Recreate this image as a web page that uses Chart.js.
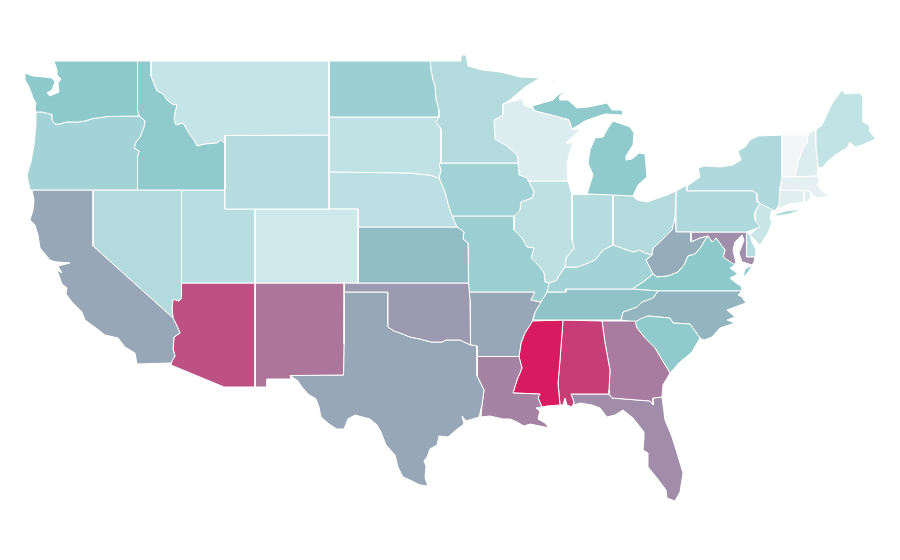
<!DOCTYPE html>
<html>
<head>
<meta charset="utf-8">
<title>US states</title>
<script src="https://cdn.jsdelivr.net/npm/chart.js@4"></script>
<style>
  html, body { margin: 0; background: #fff; }
  #wrap { width: 900px; height: 560px; }
</style>
</head>
<body>
<div id="wrap"><canvas id="map"></canvas></div>
<script>
// Choropleth values (0 = palest, 1 = crimson)
const stateNames = ['WA','OR','CA','ID','NV','MT','WY','UT','AZ','CO','NM','ND','SD','NE','KS','OK','TX','MN','IA','MO','AR','LA','WI','IL','MI','IN','OH','KY','TN','MS','AL','GA','FL','SC','NC','VA','WV','PA','NY','NJ','MD','DE','CT','RI','MA','VT','NH','ME'];
const stateValues = [0.5,0.385,0.6,0.49,0.298,0.2,0.287,0.27,0.844,0.157,0.74,0.43,0.22,0.255,0.538,0.636,0.6,0.298,0.395,0.43,0.6,0.7,0.1,0.245,0.49,0.287,0.3,0.385,0.518,1,0.9,0.72,0.672,0.49,0.559,0.5,0.582,0.32,0.32,0.185,0.667,0.287,0.085,0.08,0.06,0,0.1,0.215];

// Colour ramp
const rampStops = [0, 0.2, 0.5, 0.6, 0.7, 1];
const rampColors = [[244,245,246],[197,228,231],[142,201,204],[151,167,183],[165,131,163],[216,27,96]];

// State outlines in map units
const WA = [[54,61],[137.5,61],[137.5,110],[139,116],[108,116.5],[93,118.5],[85,121],[78,122],[66,122],[60,124],[55,124],[52,120],[52,114.5],[42,112],[36,112],[35,108],[36,103],[33,98],[31,92],[28,85],[25,80],[25,73],[33,76],[44,77],[52,78],[55,82],[52,90],[47,93],[50,96],[59,92],[58,83],[61,79],[57,75],[57,70]];
const OR = [[139,116],[145,121],[144,127],[140,137],[136,142],[134,148],[139,151],[137.5,157],[137.5,190],[30,190],[27,175],[31,162],[34,145],[36,125],[36,112],[42,112],[52,114.5],[52,120],[55,124],[60,124],[66,122],[78,122],[85,121],[93,118.5],[108,116.5]];
const CA = [[32,190],[93,190],[93,246],[173,318],[177,326],[180,333],[174,337],[173,349],[175,356],[172,361],[171,363],[137,364],[135,353],[125,347],[118,338],[105,335],[96,328],[85,320],[82,312],[72,302],[66,294],[67,288],[62,284],[57,270],[62,273],[58,266],[70,263],[58,262],[56,262],[50,260],[40,248],[38,235],[35,225],[30,220],[33,210],[34,200]];
const ID = [[137.5,61],[151,61],[151,76],[154,84],[157,91],[163,94],[167,100],[172,104],[177,105],[175,112],[174,120],[176,125],[183,123],[187,130],[190,135],[194,140],[197,146],[205,144],[217,143],[221,140],[225,144],[225,190],[137.5,190],[137.5,157],[139,151],[134,148],[136,142],[140,137],[144,127],[145,121],[139,116],[137.5,110]];
const NV = [[93,190],[181.5,190],[181.5,298],[179,301],[173,299],[172,308],[173,318],[93,246]];
const MT = [[151,61],[329,61],[329,135],[225,135.5],[225,144],[221,140],[217,143],[205,144],[197,146],[194,140],[190,135],[187,130],[183,123],[176,125],[174,120],[175,112],[177,105],[172,104],[167,100],[163,94],[157,91],[154,84],[151,76]];
const WY = [[225,135.5],[329,135],[329,209],[225,209]];
const UT = [[181.5,190],[225,190],[225,209],[255,209],[255,283],[181.5,283]];
const AZ = [[181.5,283],[255,283],[255,387],[224,387],[171,365],[172,361],[175,356],[173,349],[174,337],[180,333],[177,326],[173,318],[172,308],[173,299],[179,301],[181.5,298]];
const CO = [[255,209],[358,209],[358,283],[255,283]];
const NM = [[255,283],[344.5,283],[344,344],[343.5,375],[290,375.5],[291,379],[267,379],[267,387],[255,387]];
const ND = [[329,61],[430,61],[431,70],[433,80],[435,86],[436,100],[439,110],[439,117],[329,117]];
const SD = [[329,117],[439,117],[436,122],[441,129],[441,163],[439,164],[441,170],[439,178],[433,176],[429,175],[418,174],[412,173],[329,172]];
const NE = [[329,172],[412,173],[418,174],[429,175],[433,176],[439,178],[445,192],[448,204],[452,216],[457,227],[358,227],[358,209],[329,209]];
const KS = [[358,227],[457,227],[464,232],[463,239],[468,243],[468.5,283],[358,283]];
const OK = [[344.5,283],[468.5,283],[470,300],[470.5,345],[460,340],[446,340],[442,342],[431,342],[420,339],[410,337],[400,333],[394,331],[388,327],[388,292],[344.5,292]];
const TX = [[344.5,292],[388,292],[388,327],[394,331],[400,333],[410,337],[420,339],[431,342],[442,342],[446,340],[460,340],[470.5,345],[477,346],[477,376],[484,390],[482,405],[479,417],[466,421],[462,416],[464,424],[456,430],[448,437],[439,436],[437,445],[430,449],[427,457],[424,461],[426,466],[425,478],[428,486],[420,485],[410,480],[403,477],[398,467],[395,455],[386,445],[381,432],[377,425],[370,419],[355,415],[348,419],[344,429],[337,429],[329,424],[321,417],[319,407],[316,399],[308,394],[302,387],[298,381],[290,375.5],[343.5,375],[344,344]];
const MN = [[430,61],[461,61],[461,55],[466,55],[468,66],[482,70],[500,72],[505,73],[520,77],[540,78],[525,87],[510,100],[503,104],[503,115],[494,120],[495,139],[507,146],[517,155],[518,163],[441,163],[441,129],[436,122],[439,117],[439,110],[436,100],[435,86],[433,80],[431,70]];
const IA = [[441,163],[518,163],[519,175],[527,178],[534,192],[532,198],[521,202],[520,210],[514,216],[452,216],[448,204],[445,192],[439,178],[441,170],[439,164]];
const MO = [[452,216],[514,216],[514,230],[522,238],[527,247],[534,248],[531,258],[540,267],[544,273],[545,282],[549,283],[547,292],[541,302],[531,300],[535,292],[469,292],[468.5,283],[468,243],[463,239],[464,232],[457,227]];
const AR = [[469,292],[535,292],[531,300],[541,302],[535,312],[532,322],[525,333],[521,343],[519,356.5],[477,356.5],[477,346],[470.5,345],[470,300]];
const LA = [[477,356.5],[519,356.5],[522,368],[517,380],[513,393],[540,394],[538,398],[542,407],[536,408],[540,411],[538,419],[545,423],[549,428],[540,426],[530,424],[524,426],[517,422],[510,419],[503,419],[490,416],[481,417],[482,405],[484,390],[477,376]];
const WI = [[503,104],[510,102],[522,99],[524,105],[532,108],[535,111],[555,116],[569,120],[572,129],[580,130],[566,143],[573,143],[569,155],[567,165],[568,181],[527,181],[520,176],[519,175],[518,163],[517,155],[507,146],[495,139],[494,120],[503,115]];
const IL = [[527,181],[568,181],[572,195],[572,240],[574,248],[566,258],[565,267],[558,277],[557,280],[549,283],[545,282],[544,273],[540,267],[531,258],[534,248],[527,247],[522,238],[514,230],[514,216],[520,210],[521,202],[532,198],[534,192],[527,178]];
const miLower = [[587,194],[613,195],[633,196],[638,185],[647,177],[645,154],[639,153],[632,159],[626,160],[626,156],[633,145],[634,133],[630,127],[622,124],[613,121],[608,128],[603,137],[595,138],[590,150],[588,163],[593,175]];
const miUpper = [[532,106],[553,100],[558,95],[568,90],[560,96],[560,100],[568,100],[577,108],[588,107],[607,103],[612,110],[622,110],[623,115],[605,114],[593,118],[585,121],[572,129],[569,120],[555,116],[535,111]];
const miIsle = [[549,82],[556,78],[553,81]];
const IN = [[572.5,194.5],[613,194.5],[613,245],[603,250],[595,260],[588,263],[583,265],[577,267],[565,267],[566,258],[574,248],[572,240]];
const OH = [[613,195],[633,196],[637,200],[647,202],[667,195],[676,191],[675,217],[672,230],[662,240],[653,248],[652,255],[643,252],[640,250],[633,252],[622,248],[613,245]];
const KY = [[545,282],[549,283],[557,280],[558,277],[565,267],[577,267],[583,265],[588,263],[595,260],[603,250],[613,245],[622,248],[633,252],[640,250],[643,252],[652,255],[646,260],[650,268],[653,274],[643,282],[632,289],[566,289],[566,292],[547,292]];
const TN = [[547,292],[566,292],[566,289],[632,289],[658,291],[653,298],[642,302],[637,307],[623,312],[621,320],[533,320],[535,312],[541,302]];
const MS = [[532,321],[563,320],[560,360],[558,383],[560,405],[547,406],[542,407],[538,398],[540,394],[513,393],[517,380],[522,368],[519,357],[521,343],[525,333]];
const AL = [[563,320],[602,321],[605,343],[610,370],[609,390],[609,394],[571,394],[574,402],[572,407],[567,405],[565,398],[563,405],[560,405],[558,383],[560,360]];
const GA = [[602,321],[635,321],[637,328],[645,338],[655,348],[662,360],[667,368],[670,373],[663,385],[662,397],[653,398],[653,405],[650,401],[612,398],[609,394],[609,390],[610,370],[605,343]];
const FL = [[571,394],[609,394],[612,398],[650,401],[653,405],[653,398],[662,397],[665,420],[672,437],[677,453],[683,473],[680,492],[675,501],[667,498],[666,490],[657,478],[648,467],[648,453],[643,450],[644,438],[644,432],[633,418],[623,410],[615,415],[607,417],[600,408],[592,405],[580,403],[574,405],[574,402]];
const SC = [[635,322],[642,318],[648,316],[670,318],[673,323],[690,324],[700,338],[692,352],[680,362],[670,373],[667,368],[662,360],[655,348],[645,338],[637,328]];
const NC = [[658,291],[742,291],[738,295],[742,297],[746,303],[735,307],[727,310],[735,317],[727,320],[735,323],[720,328],[712,337],[704,340],[700,338],[690,324],[673,323],[670,318],[648,316],[640,320],[635,322],[621,320],[623,312],[637,307],[642,302],[653,298]];
const vaMain = [[632,289],[643,282],[653,274],[657,277],[668,276],[678,272],[684,265],[688,256],[695,254],[701,247],[705,240],[708,236],[712,242],[716,238],[725,250],[723,257],[735,265],[730,268],[738,274],[730,278],[736,283],[741,286],[742,291],[658,291]];
const vaShore = [[753,265],[745,269],[743,278],[748,272]];
const WV = [[676,232],[691,232],[691,242],[700,238],[708,236],[705,240],[701,247],[695,254],[688,256],[684,265],[678,272],[668,276],[657,277],[653,274],[650,268],[646,260],[652,255],[653,248],[662,240],[672,230],[675,217]];
const PA = [[676,191],[687,185],[687,191],[753,191],[757,194],[757,202],[760,203],[755,212],[755,220],[760,227],[752,230],[746.5,232],[676,232]];
const nyMain = [[687,191],[687,186],[700,177],[698,168],[705,166],[720,167],[733,165],[741,160],[738,151],[745,147],[750,140],[758,136],[782,135],[782,177],[780,187],[779,205],[775,211],[761,204],[757,201],[757,194],[753,191]];
const nyIsland = [[773,215],[785,211],[802,209],[790,214],[778,216]];
const NJ = [[761,204],[772,208],[770,218],[772,222],[768,233],[760,245],[750,235],[758,227],[755,220],[755,212],[760,203]];
const MD = [[691,232],[746.5,232],[746.5,257],[755,257],[754,262],[752,265],[746,263],[742,262],[739,253],[744,240],[742,235],[735,242],[733,250],[736,263],[733,265],[723,257],[725,250],[716,238],[712,242],[708,236],[700,238],[691,242]];
const DE = [[746.5,232],[750,235],[752,242],[756,250],[756,257],[746.5,257]];
const CT = [[780,190],[804,190.5],[804,202],[790,204],[778,209],[779,205]];
const RI = [[804,190.5],[810,191],[811,198],[807,202],[804,202]];
const MA = [[782,177],[795,177],[817,176],[820,180],[817,185],[823,192],[830,195],[823,197],[817,198],[813,195],[810,191],[780,190]];
const VT = [[782,135],[808,135],[807,143],[803,148],[798,162],[795,177],[782,177]];
const NH = [[810,133],[815,130],[816,148],[818,167],[817,176],[795,177],[798,162],[803,148],[807,143],[808,135]];
const ME = [[816,130],[822,125],[828,112],[833,102],[842,90],[845,94],[860,93],[863,97],[863,122],[869,125],[870,132],[876,139],[862,145],[855,147],[850,142],[847,148],[835,155],[827,162],[822,168],[818,167],[816,148]];

const stateShapes = [[WA],[OR],[CA],[ID],[NV],[MT],[WY],[UT],[AZ],[CO],[NM],[ND],[SD],[NE],[KS],[OK],[TX],[MN],[IA],[MO],[AR],[LA],[WI],[IL],[miLower,miUpper,miIsle],[IN],[OH],[KY],[TN],[MS],[AL],[GA],[FL],[SC],[NC],[vaMain,vaShore],[WV],[PA],[nyMain,nyIsland],[NJ],[MD],[DE],[CT],[RI],[MA],[VT],[NH],[ME]];

function rampColor(v) {
    let i = 0;
    while (i < rampStops.length - 2 && v > rampStops[i + 1]) i++;
    const t = (v - rampStops[i]) / (rampStops[i + 1] - rampStops[i]);
    const c = rampColors[i].map((a, k) => Math.round(a + (rampColors[i + 1][k] - a) * t));
    return `rgb(${c[0]}, ${c[1]}, ${c[2]})`;
}

const datasets = [];
stateShapes.forEach((parts, i) => {
    parts.forEach(part => {
        const closed = part.concat([part[0]]);
        datasets.push({
            label: stateNames[i],
            data: closed.map(p => ({ x: p[0], y: p[1] })),
            showLine: true,
            fill: 'shape',
            tension: 0,
            pointRadius: 0,
            pointHitRadius: 0,
            borderColor: '#ffffff',
            borderWidth: 1,
            borderJoinStyle: 'round',
            backgroundColor: rampColor(stateValues[i])
        });
    });
});

new Chart(document.getElementById('map'), {
    type: 'scatter',
    data: { datasets },
    options: {
        responsive: true,
        maintainAspectRatio: false,
        animation: false,
        layout: { padding: 0 },
        plugins: { legend: { display: false }, tooltip: { enabled: false } },
        scales: {
            x: { type: 'linear', display: false, min: 0, max: 900 },
            y: { type: 'linear', display: false, min: 0, max: 560, reverse: true }
        }
    }
});
</script>
</body>
</html>
